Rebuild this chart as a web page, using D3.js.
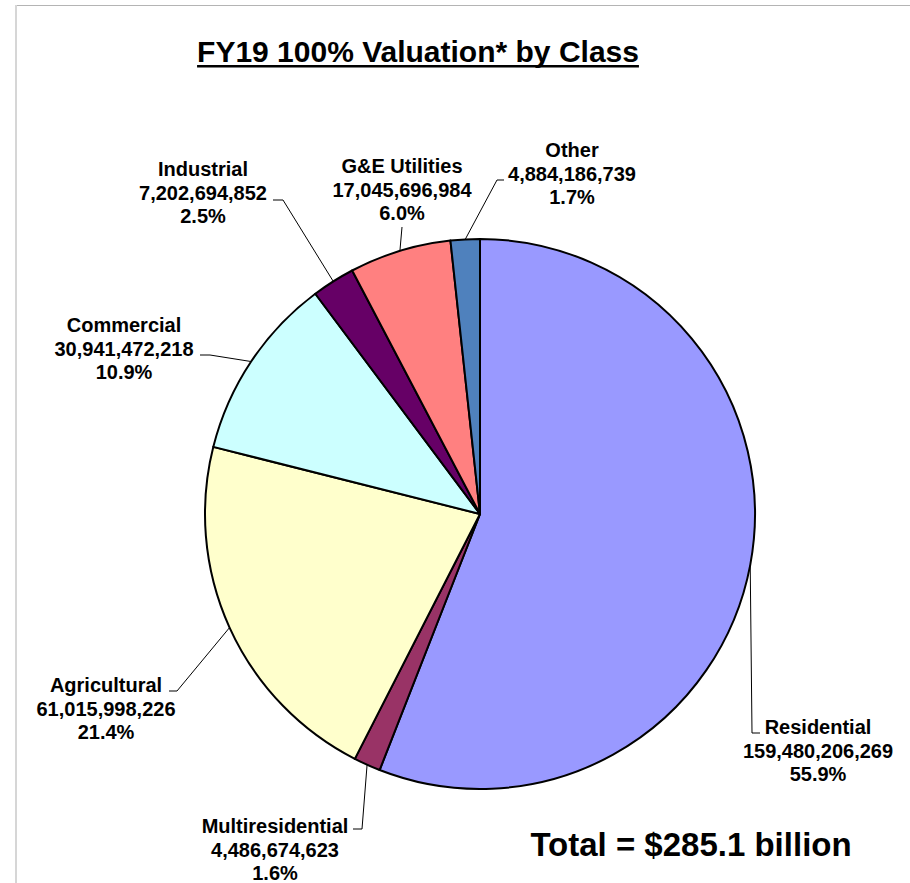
<!DOCTYPE html>
<html>
<head>
<meta charset="utf-8">
<script src="https://cdn.jsdelivr.net/npm/d3@7"></script>
<style>
  body { margin: 0; background: #fff; }
  text { font-family: Arial, "Liberation Sans", sans-serif; font-weight: bold; fill: #000; }
</style>
</head>
<body>
<svg id="chart"></svg>
<script>
// Data
var classes = ["Residential", "Multiresidential", "Agricultural", "Commercial", "Industrial", "G&E Utilities", "Other"];
var values = [159480206269, 4486674623, 61015998226, 30941472218, 7202694852, 17045696984, 4884186739];
var colors = ["#9999FF", "#993366", "#FFFFCC", "#CCFFFF", "#660066", "#FF8080", "#4F81BD"];

// label layout: label centre x, first baseline y, leader elbow and leader end
var labelLayout = [
    { x: 818, y: 734, elbow: [752, 733], end: [760, 733] },
    { x: 275, y: 833, elbow: [362, 829], end: [353, 829] },
    { x: 106, y: 692, elbow: [177, 691], end: [169, 691] },
    { x: 124, y: 332, elbow: [210, 355], end: [200, 355] },
    { x: 203, y: 176, elbow: [283, 200], end: [273, 200] },
    { x: 402, y: 173, elbow: [402, 227], end: [402, 227] },
    { x: 572, y: 157, elbow: [497, 180], end: [504, 180] }
];

var width = 910, height = 883;
var cx = 480, cy = 514, radius = 275;
var lineGap = 23.5;

var svg = d3.select("#chart")
    .attr("width", width)
    .attr("height", height);

// frame
svg.append("line")
    .attr("x1", 15).attr("y1", 5.5).attr("x2", width).attr("y2", 5.5)
    .attr("stroke", "#b4b4b4").attr("stroke-width", 1);
svg.append("line")
    .attr("x1", 16).attr("y1", 5).attr("x2", 16).attr("y2", height)
    .attr("stroke", "#d6d6d6").attr("stroke-width", 2);

// title with underline
var title = svg.append("text")
    .attr("x", 418)
    .attr("y", 62)
    .attr("text-anchor", "middle")
    .style("font-size", "30px")
    .text("FY19 100% Valuation* by Class");
var tw = title.node().getComputedTextLength();
svg.append("rect")
    .attr("x", 418 - tw / 2)
    .attr("y", 65)
    .attr("width", tw)
    .attr("height", 2.5)
    .attr("fill", "#000");

var total = d3.sum(values);
var data = classes.map(function (c, i) {
    return { name: c, value: values[i], color: colors[i], layout: labelLayout[i] };
});

var pie = d3.pie()
    .sort(null)
    .value(function (d) { return d.value; });
var arc = d3.arc().innerRadius(0).outerRadius(radius);

var g = svg.append("g")
    .attr("transform", "translate(" + cx + "," + cy + ")");

var arcs = pie(data);

g.selectAll(".slice")
    .data(arcs)
    .enter()
    .append("path")
    .attr("class", "slice")
    .attr("d", arc)
    .attr("fill", function (d) { return d.data.color; })
    .attr("stroke", "#000")
    .attr("stroke-width", 2)
    .attr("stroke-linejoin", "round");

// leader lines
var fmt = d3.format(",");
var pct = d3.format(".1%");

svg.selectAll(".leader")
    .data(arcs)
    .enter()
    .append("polyline")
    .attr("class", "leader")
    .attr("points", function (d) {
        var mid = (d.startAngle + d.endAngle) / 2;
        var sx = cx + radius * Math.sin(mid);
        var sy = cy - radius * Math.cos(mid);
        var L = d.data.layout;
        return [[sx, sy], L.elbow, L.end].map(function (p) { return p.join(","); }).join(" ");
    })
    .attr("fill", "none")
    .attr("stroke", "#000")
    .attr("stroke-width", 1);

// labels
var labels = svg.selectAll(".label")
    .data(arcs)
    .enter()
    .append("text")
    .attr("class", "label")
    .attr("text-anchor", "middle")
    .style("font-size", "20px");

labels.each(function (d) {
    var t = d3.select(this);
    var L = d.data.layout;
    var lines = [d.data.name, fmt(d.data.value), pct(d.data.value / total)];
    lines.forEach(function (s, k) {
        t.append("tspan")
            .attr("x", L.x)
            .attr("y", L.y + k * lineGap)
            .text(s);
    });
});

// total
svg.append("text")
    .attr("x", 691)
    .attr("y", 856)
    .attr("text-anchor", "middle")
    .style("font-size", "33px")
    .text("Total = $" + d3.format(".1f")(total / 1e9) + " billion");
</script>
</body>
</html>
